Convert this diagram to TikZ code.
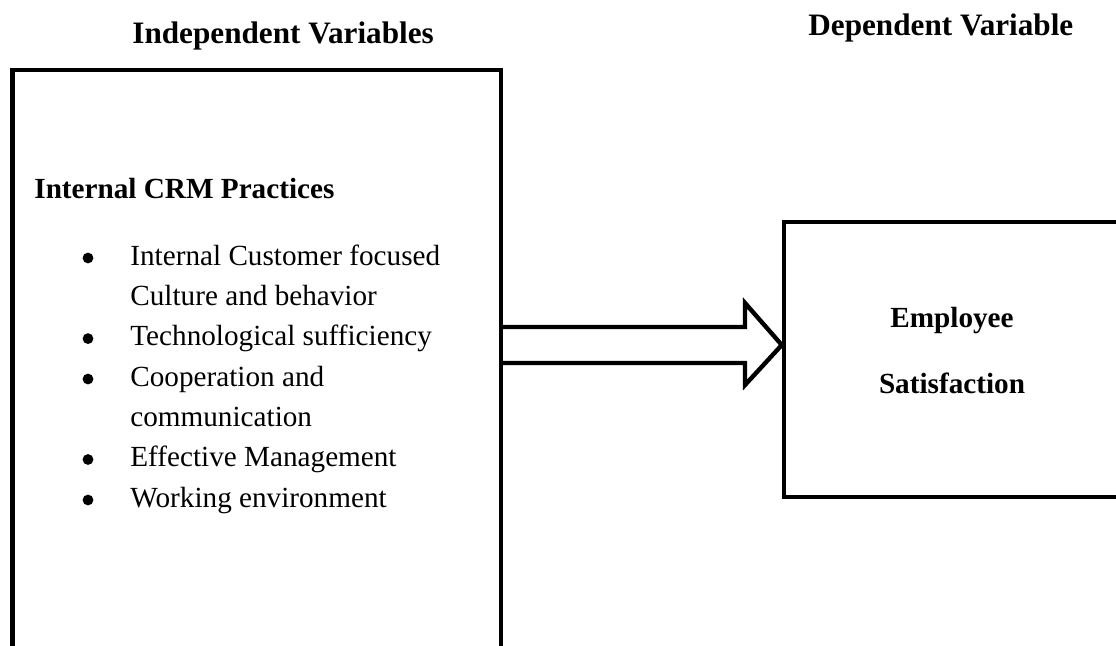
\documentclass[tikz,border=0pt]{standalone}
\usepackage{fontspec}
\setmainfont{Liberation Serif}
\usetikzlibrary{fit}

\tikzset{
  box/.style={draw, line width=2.2pt, inner sep=0pt},
  blockarrow/.style={draw, line width=2.2pt, line join=miter},
  title/.style={font=\fontsize{15.6}{18}\selectfont\bfseries, anchor=base west, inner sep=0pt},
  body/.style={font=\fontsize{14.6}{17}\selectfont, anchor=base west, inner sep=0pt},
  bodybf/.style={body, font=\fontsize{14.6}{17}\selectfont\bfseries},
  dvtext/.style={bodybf, anchor=base},
  bulletdot/.style={circle, fill, inner sep=0pt, minimum size=5.4pt},
}

\begin{document}
\begin{tikzpicture}[x=0.5pt, y=-0.5pt]
            \useasboundingbox (0,0) rectangle (1116,645);
            \clip (0,0) rectangle (1116,645);

            \node[title] (ivtitle) at (132,43) {Independent Variables};
            \node[title] (dvtitle) at (808,35) {Dependent Variable};

            \node[box, fit={(12.5,70) (501,700)}] (ivbox) {};
            \node[box, fit={(784,222) (1140,497)}] (dvbox) {};

            \node[bodybf] (crm) at (34,198) {Internal CRM Practices};

            \foreach \y/\name in {265/a, 345.6/b, 386/c, 466.5/d, 507/e}
                \node[bulletdot] (bul\name) at (88,\y-7) {};

            \node[body] (itema) at (130,265) {Internal Customer focused};
            \node[body] (itemaa) at (130,305.3) {Culture and behavior};
            \node[body] (itemb) at (130,345.6) {Technological sufficiency};
            \node[body] (itemc) at (130,386) {Cooperation and};
            \node[body] (itemcc) at (130,426) {communication};
            \node[body] (itemd) at (130,466.5) {Effective Management};
            \node[body] (iteme) at (130,507) {Working environment};

            \draw[blockarrow] (ivbox.east |- 0,327) -- (745,327) -- (745,303)
                -- (dvbox.west |- 0,345) -- (745,385) -- (745,363) -- (ivbox.east |- 0,363);

            \node[dvtext] (emp) at (952,327) {Employee};
            \node[dvtext] (sat) at (952,393) {Satisfaction};
        \end{tikzpicture}
\end{document}
